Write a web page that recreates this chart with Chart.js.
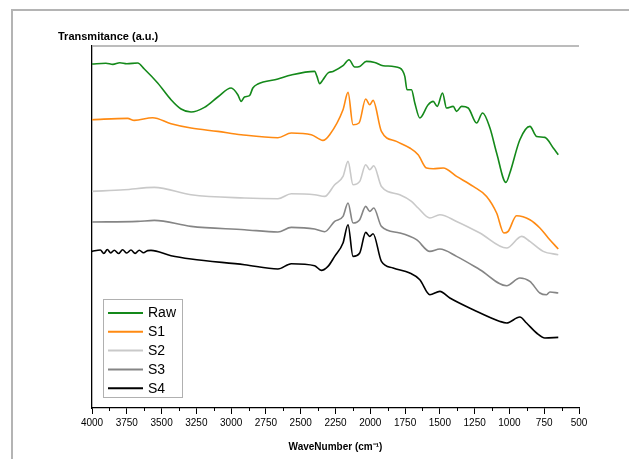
<!DOCTYPE html>
<html>
<head>
<meta charset="utf-8">
<script src="https://cdn.jsdelivr.net/npm/chart.js@4.4.1/dist/chart.umd.min.js"></script>
<style>
  html, body { margin: 0; padding: 0; background: #ffffff; }
  #wrap { width: 629px; height: 459px; position: relative; }
</style>
</head>
<body>
<div id="wrap"><canvas id="ftirChart"></canvas></div>
<script>
// series names
const seriesNames = ['Raw', 'S1', 'S2', 'S3', 'S4']
const seriesColors = ['#14891a', '#ff8a12', '#c9c9c9', '#858585', '#000000']

// wavenumbers (cm-1) and transmittance (a.u.)
const rawWn = [4000, 3900, 3850, 3800, 3750, 3672, 3624, 3528, 3432, 3360, 3288, 3192, 3096, 3000, 2952, 2928, 2904, 2868, 2844, 2808, 2664, 2568, 2400, 2383, 2364, 2340, 2304, 2268, 2196, 2153, 2112, 2076, 2028, 1968, 1908, 1788, 1752, 1736, 1704, 1680, 1644, 1584, 1548, 1519, 1481, 1452, 1404, 1380, 1344, 1296, 1236, 1193, 1140, 1092, 1025, 997, 925, 853, 805, 745, 685, 649]
const rawT = [344, 344.8, 343.6, 345.2, 344.2, 345, 339, 325, 308.3, 299, 296, 300.6, 311, 320, 313.3, 306.6, 311, 312.3, 320, 324, 329, 333, 336.6, 331.6, 324.3, 328.3, 335, 336.6, 342.3, 348.3, 341, 341.6, 346.6, 345.6, 342.3, 340, 331.6, 318.3, 318.3, 305, 290, 303.3, 306.6, 301.6, 315, 300, 301.6, 296.6, 301.6, 300, 285, 295, 280, 255, 225.6, 235, 268.3, 281.6, 271.6, 270.6, 260, 253.3]

const s1Wn = [4000, 3744, 3696, 3564, 3432, 3288, 3096, 2928, 2664, 2568, 2424, 2340, 2292, 2196, 2160, 2124, 2081, 2033, 2004, 1980, 1920, 1812, 1716, 1656, 1596, 1548, 1476, 1380, 1260, 1164, 1092, 1040, 1009, 949, 853, 781, 721, 649]
const s1T = [288.3, 289.6, 287.6, 290.3, 284.3, 280, 276.6, 273.3, 270.3, 275, 273.3, 267.6, 273.3, 298.3, 315.6, 283.3, 285, 309, 303.3, 307.6, 276.6, 266.6, 260, 253.3, 240, 239.3, 240, 231.6, 221.6, 211.6, 195, 175, 176.6, 192.3, 188.3, 180, 170, 159]

const s2Wn = [4000, 3768, 3552, 3288, 2904, 2664, 2568, 2400, 2328, 2256, 2196, 2160, 2124, 2076, 2033, 2004, 1975, 1920, 1788, 1704, 1656, 1572, 1500, 1380, 1212, 1020, 912, 853, 757, 649]
const s2T = [216.6, 218.3, 220.6, 213.3, 210, 209.3, 214.3, 213.3, 211.6, 223.3, 231.6, 246.6, 223.3, 226.6, 243.3, 238.3, 242.3, 221.6, 213.3, 206.6, 200, 190, 193.3, 186.6, 175, 160, 171.6, 166.6, 156.6, 153.3]

const s3Wn = [4000, 3672, 3552, 3288, 2904, 2664, 2568, 2400, 2328, 2256, 2196, 2160, 2124, 2076, 2033, 2004, 1975, 1920, 1788, 1668, 1572, 1500, 1380, 1212, 1020, 925, 853, 781, 733, 709, 649]
const s3T = [186, 186.6, 187.6, 181.6, 178.3, 176, 180.6, 179, 176.3, 186.6, 191.6, 205, 185, 188.3, 201.6, 196.6, 200, 181.6, 175, 168.3, 156.6, 159, 151.6, 138.3, 122.3, 130, 126.6, 115, 113.3, 116, 115]

const s4Wn = [4000, 3940, 3915, 3890, 3865, 3840, 3810, 3780, 3750, 3720, 3690, 3660, 3630, 3600, 3576, 3432, 3288, 2904, 2664, 2568, 2400, 2352, 2304, 2256, 2196, 2160, 2124, 2076, 2033, 2004, 1980, 1920, 1836, 1716, 1644, 1572, 1500, 1428, 1260, 1068, 1020, 925, 877, 805, 745, 649]
const s4T = [156.6, 158, 154.5, 158.5, 155, 157.8, 154.5, 158.2, 155, 158, 154.6, 157.8, 155.2, 157.4, 157.6, 152.3, 149, 143.3, 139, 144.3, 142.3, 137.6, 141.6, 151.6, 165, 183.3, 151.6, 155, 175.6, 171.6, 174.3, 146.6, 140, 135, 128.3, 113.3, 116.6, 110, 98.3, 86.6, 85, 91, 85, 75, 70, 70.6]

const seriesWn = [rawWn, s1Wn, s2Wn, s3Wn, s4Wn]
const seriesT = [rawT, s1T, s2T, s3T, s4T]

// x axis ticks
const xMin = 500
const xMax = 4000
const xStep = 250

const datasets = seriesNames.map((name, i) => ({
  label: name,
  data: seriesWn[i].map((wn, j) => ({ x: wn, y: seriesT[i][j] })),
  borderColor: seriesColors[i],
  backgroundColor: seriesColors[i],
  borderWidth: 1.6,
  pointRadius: 0,
  cubicInterpolationMode: 'monotone',
  fill: false
}))

// frame, y title, top border, minor ticks and boxed legend
const decorPlugin = {
  id: 'decor',
  beforeDraw(chart) {
    const c = chart.ctx
    c.save()
    c.fillStyle = '#ffffff'
    c.fillRect(0, 0, chart.width, chart.height)
    c.strokeStyle = '#b4b4b4'
    c.lineWidth = 2
    c.beginPath()
    c.moveTo(12, chart.height)
    c.lineTo(12, 10)
    c.lineTo(chart.width, 10)
    c.stroke()
    c.restore()
  },
  afterDraw(chart) {
    const c = chart.ctx
    const area = chart.chartArea
    const xs = chart.scales.x
    c.save()
    // top border of plot
    c.strokeStyle = '#a6a6a6'
    c.lineWidth = 1.5
    c.beginPath()
    c.moveTo(area.left, area.top)
    c.lineTo(area.right, area.top)
    c.stroke()
    // minor ticks
    c.strokeStyle = '#000000'
    c.lineWidth = 1
    for (let v = xMin + xStep / 2; v < xMax; v += xStep) {
      const px = Math.round(xs.getPixelForValue(v)) + 0.5
      c.beginPath()
      c.moveTo(px, area.bottom)
      c.lineTo(px, area.bottom + 3)
      c.stroke()
    }
    // y title
    c.fillStyle = '#000000'
    c.font = 'bold 11px "Liberation Sans", Arial, sans-serif'
    c.textBaseline = 'alphabetic'
    c.textAlign = 'left'
    c.fillText('Transmitance (a.u.)', 58, 40)
    // legend box
    const bx = 103.5, by = 299.5, bw = 79, bh = 98
    c.fillStyle = '#ffffff'
    c.fillRect(bx, by, bw, bh)
    c.strokeStyle = '#b0b0b0'
    c.lineWidth = 1
    c.strokeRect(bx, by, bw, bh)
    c.font = '14px "Liberation Sans", Arial, sans-serif'
    c.textBaseline = 'middle'
    chart.data.datasets.forEach((ds, i) => {
      const ly = 313 + i * 18.8
      c.strokeStyle = ds.borderColor
      c.lineWidth = 2
      c.beginPath()
      c.moveTo(108, ly)
      c.lineTo(143, ly)
      c.stroke()
      c.fillStyle = '#000000'
      c.fillText(ds.label, 148, ly + 0.5)
    })
    c.restore()
  }
}

const ctx = document.getElementById('ftirChart').getContext('2d')
const ftirChart = new Chart(ctx, {
  type: 'line',
  data: { datasets: datasets },
  options: {
    responsive: true,
    maintainAspectRatio: false,
    animation: false,
    layout: {
      padding: { left: 92, top: 46, right: 50, bottom: 0 }
    },
    plugins: {
      legend: { display: false },
      tooltip: { enabled: false },
      title: { display: false }
    },
    scales: {
      x: {
        type: 'linear',
        reverse: true,
        min: xMin,
        max: xMax,
        afterFit: (scale) => { scale.height = 51 },
        ticks: {
          stepSize: xStep,
          color: '#000000',
          padding: 3,
          maxRotation: 0,
          autoSkip: false,
          callback: (value) => String(value),
          font: { family: '"Liberation Sans", Arial, sans-serif', size: 10 }
        },
        grid: {
          display: true,
          drawOnChartArea: false,
          drawTicks: true,
          tickLength: 6,
          tickColor: '#000000'
        },
        border: { display: true, color: '#000000', width: 1.3 },
        title: {
          display: true,
          text: 'WaveNumber (cm⁻¹)',
          color: '#000000',
          padding: { top: 0, bottom: 6 },
          font: { family: '"Liberation Sans", Arial, sans-serif', size: 10, weight: 'bold' }
        }
      },
      y: {
        type: 'linear',
        min: 0,
        max: 362,
        afterFit: (scale) => { scale.width = 0 },
        ticks: { display: false },
        grid: { display: false, drawTicks: false },
        border: { display: true, color: '#000000', width: 1.3 }
      }
    }
  },
  plugins: [decorPlugin]
})
</script>
</body>
</html>
